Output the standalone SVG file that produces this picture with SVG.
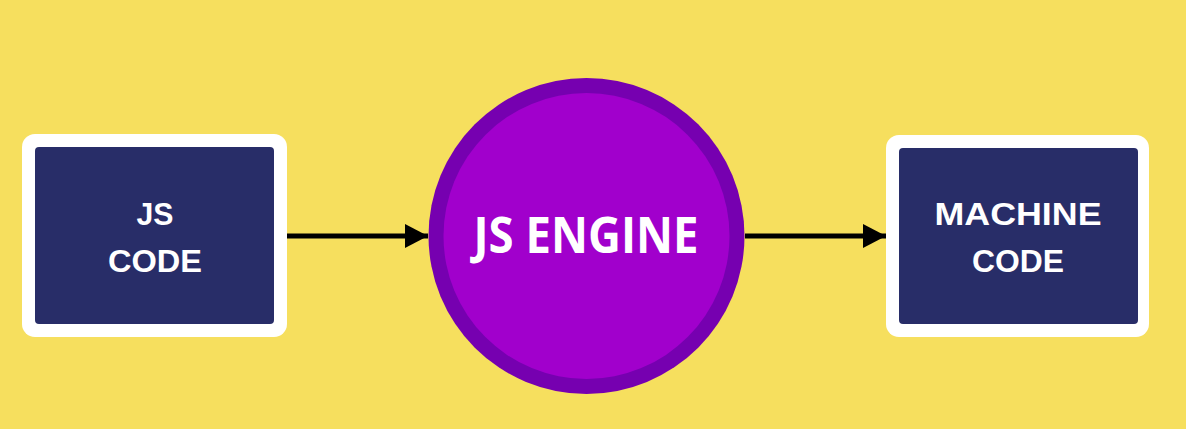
<svg xmlns="http://www.w3.org/2000/svg" width="1186" height="429" viewBox="0 0 1186 429">
<defs>
<style>
.outer{fill:#ffffff}
.inner{fill:#282d68}
.btxt{font-family:"Liberation Sans",Arial,sans-serif;font-weight:bold;font-size:32px;fill:#ffffff;text-anchor:middle}
.ctxt{font-family:"Open Sans",sans-serif;font-weight:bold;font-size:50px;fill:#ffffff;text-anchor:middle}
.conn{stroke:#000000;stroke-width:5;fill:none}
</style>
<marker id="ah" markerWidth="23" markerHeight="24" refX="23" refY="12" orient="auto" markerUnits="userSpaceOnUse">
<path d="M0,0 L23,12 L0,24 Z" fill="#000000"/>
</marker>
</defs>
<rect width="1186" height="429" fill="#f6df5e"/>
<g id="connectors">
<line class="conn" x1="287" y1="236" x2="428" y2="236" marker-end="url(#ah)"/>
<line class="conn" x1="745" y1="236" x2="886" y2="236" marker-end="url(#ah)"/>
</g>
<g id="js-code">
<rect class="outer" x="22" y="134" width="265" height="203" rx="13"/>
<rect class="inner" x="35" y="147" width="239" height="177" rx="4"/>
<text class="btxt" x="155" y="225" textLength="37" lengthAdjust="spacingAndGlyphs">JS</text>
<text class="btxt" x="155" y="272" textLength="94" lengthAdjust="spacingAndGlyphs">CODE</text>
</g>
<g id="js-engine">
<circle cx="586.5" cy="236" r="158" fill="#7600b0"/>
<circle cx="586.5" cy="236" r="143" fill="#a100cc"/>
<text class="ctxt" x="586" y="253" textLength="225" lengthAdjust="spacingAndGlyphs">JS ENGINE</text>
</g>
<g id="machine-code">
<rect class="outer" x="886" y="135" width="263" height="202" rx="13"/>
<rect class="inner" x="899" y="148" width="239" height="176" rx="4"/>
<text class="btxt" x="1018" y="225" textLength="167" lengthAdjust="spacingAndGlyphs">MACHINE</text>
<text class="btxt" x="1018" y="272" textLength="92" lengthAdjust="spacingAndGlyphs">CODE</text>
</g>
</svg>
